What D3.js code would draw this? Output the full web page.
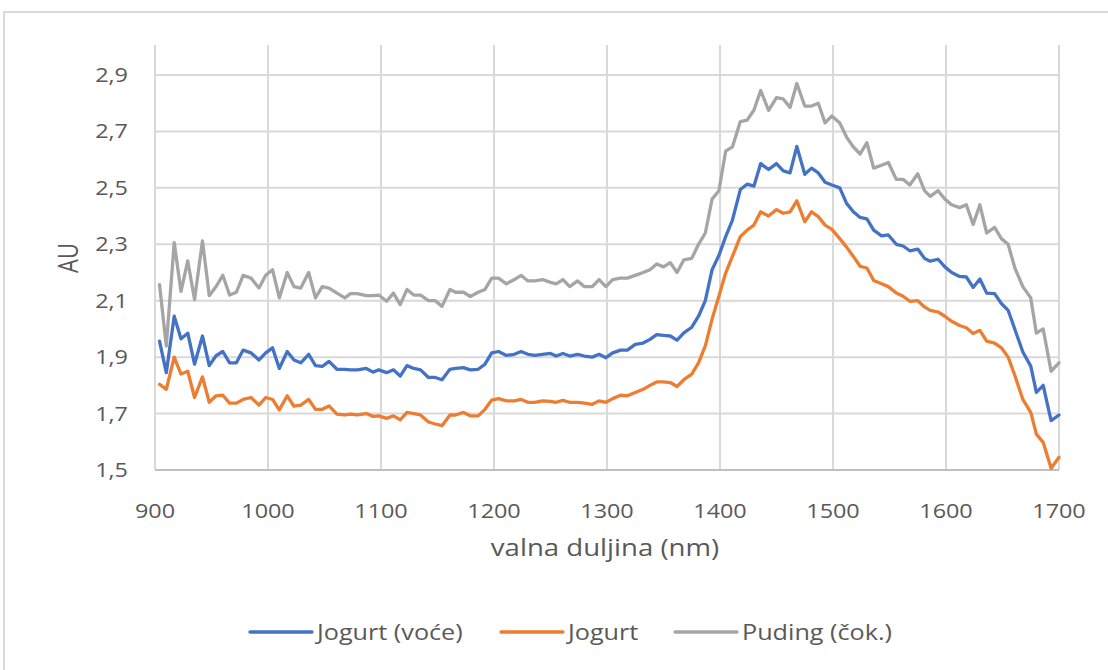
<!DOCTYPE html>
<html>
<head>
<meta charset="utf-8">
<script src="https://cdn.jsdelivr.net/npm/d3@7"></script>
<style>
  body { margin: 0; background: #fff; }
  text { font-family: "Open Sans", "Noto Sans", sans-serif; fill: #595959; }
</style>
</head>
<body>
<div id="chart"></div>
<script>
// wavelengths (nm)
const wavelengths = [
  904, 910, 917, 923, 929, 935, 942, 948, 954, 960, 966, 972, 978, 985, 992, 998, 1004, 1010, 1017, 1023,
  1029, 1036, 1042, 1048, 1054, 1061, 1068, 1073, 1079, 1087, 1093, 1098, 1105, 1111, 1117, 1123, 1129,
  1135, 1142, 1148, 1154, 1161, 1166, 1173, 1179, 1186, 1192, 1198, 1204, 1211, 1218, 1224, 1230, 1236,
  1243, 1250, 1255, 1261, 1267, 1274, 1280, 1287, 1293, 1299, 1305, 1312, 1318, 1325, 1332, 1338, 1344,
  1350, 1356, 1362, 1368, 1375, 1381, 1387, 1393, 1399,
  1405, 1411, 1418, 1424, 1430, 1436, 1443, 1450, 1456, 1462, 1468, 1475, 1481, 1487, 1493, 1499, 1506,
  1512, 1518, 1524, 1530, 1536, 1543, 1549, 1556, 1562, 1568, 1575, 1581, 1586, 1593, 1599, 1605, 1612,
  1618, 1624, 1630, 1636, 1643, 1649, 1655, 1661, 1668, 1675, 1680, 1686, 1693, 1700
];

const jogurtVoce = [
  1.957, 1.845, 2.045, 1.965, 1.985, 1.875, 1.975, 1.87, 1.905, 1.92, 1.88, 1.88, 1.925, 1.915, 1.89, 1.915, 1.933, 1.86, 1.92, 1.89,
  1.88, 1.91, 1.87, 1.867, 1.885, 1.857, 1.857, 1.855, 1.855, 1.86, 1.847, 1.855, 1.845, 1.855, 1.833, 1.87, 1.86,
  1.855, 1.828, 1.828, 1.82, 1.857, 1.86, 1.863, 1.855, 1.857, 1.875, 1.915, 1.92, 1.906, 1.91, 1.92, 1.91, 1.906,
  1.91, 1.913, 1.904, 1.913, 1.904, 1.91, 1.904, 1.90, 1.91, 1.898, 1.915, 1.925, 1.925, 1.945, 1.95, 1.963, 1.98,
  1.977, 1.975, 1.96, 1.986, 2.006, 2.045, 2.10, 2.21, 2.26,
  2.327, 2.386, 2.494, 2.513, 2.506, 2.586, 2.565, 2.586, 2.56, 2.553, 2.647, 2.548, 2.57, 2.553, 2.52, 2.51, 2.50,
  2.445, 2.415, 2.395, 2.39, 2.35, 2.33, 2.333, 2.30, 2.294, 2.277, 2.283, 2.25, 2.24, 2.247, 2.22, 2.20, 2.186,
  2.184, 2.147, 2.177, 2.127, 2.125, 2.09, 2.066, 1.998, 1.918, 1.868, 1.775, 1.80, 1.675, 1.695
];

const jogurt = [
  1.804, 1.786, 1.90, 1.84, 1.85, 1.757, 1.83, 1.74, 1.763, 1.765, 1.737, 1.737, 1.75, 1.757, 1.73, 1.757, 1.75, 1.713, 1.763, 1.726,
  1.73, 1.75, 1.715, 1.715, 1.727, 1.698, 1.695, 1.698, 1.695, 1.70, 1.69, 1.692, 1.683, 1.692, 1.678, 1.704, 1.70,
  1.695, 1.67, 1.663, 1.657, 1.695, 1.695, 1.704, 1.692, 1.692, 1.715, 1.748, 1.753, 1.745, 1.745, 1.75, 1.74, 1.74,
  1.745, 1.743, 1.74, 1.747, 1.74, 1.74, 1.737, 1.733, 1.745, 1.74, 1.753, 1.765, 1.763, 1.775, 1.786, 1.80, 1.812,
  1.812, 1.81, 1.796, 1.82, 1.84, 1.88, 1.94, 2.035, 2.116,
  2.198, 2.257, 2.327, 2.35, 2.368, 2.415, 2.40, 2.423, 2.41, 2.415, 2.454, 2.38, 2.415, 2.398, 2.368, 2.353, 2.32,
  2.29, 2.257, 2.222, 2.216, 2.172, 2.16, 2.15, 2.127, 2.116, 2.098, 2.10, 2.078, 2.066, 2.06, 2.045, 2.027, 2.012,
  2.004, 1.984, 1.995, 1.957, 1.95, 1.933, 1.90, 1.834, 1.75, 1.704, 1.627, 1.598, 1.506, 1.545
];

const pudingCok = [
  2.157, 1.939, 2.306, 2.133, 2.241, 2.104, 2.312, 2.118, 2.15, 2.19, 2.12, 2.13, 2.19, 2.18, 2.145, 2.19, 2.21, 2.11, 2.20, 2.15,
  2.145, 2.20, 2.11, 2.15, 2.145, 2.127, 2.11, 2.125, 2.125, 2.118, 2.118, 2.12, 2.098, 2.127, 2.086, 2.14, 2.12,
  2.12, 2.10, 2.10, 2.08, 2.14, 2.13, 2.13, 2.115, 2.13, 2.14, 2.18, 2.18, 2.16, 2.175, 2.19, 2.17, 2.17,
  2.175, 2.165, 2.16, 2.175, 2.15, 2.17, 2.15, 2.15, 2.175, 2.15, 2.175, 2.18, 2.18, 2.19, 2.20, 2.21, 2.23,
  2.22, 2.235, 2.20, 2.245, 2.25, 2.30, 2.34, 2.46, 2.49,
  2.63, 2.645, 2.735, 2.74, 2.775, 2.845, 2.775, 2.82, 2.815, 2.785, 2.87, 2.79, 2.79, 2.80, 2.73, 2.755, 2.73,
  2.68, 2.645, 2.62, 2.66, 2.57, 2.58, 2.59, 2.53, 2.53, 2.51, 2.55, 2.49, 2.47, 2.49, 2.46, 2.44, 2.43,
  2.44, 2.37, 2.44, 2.34, 2.36, 2.32, 2.30, 2.215, 2.15, 2.11, 1.985, 2.00, 1.85, 1.88
];

const seriesNames = ["Jogurt (voće)", "Jogurt", "Puding (čok.)"];
const seriesColors = ["#4472C4", "#ED7D31", "#A5A5A5"];
const xTicks = [900, 1000, 1100, 1200, 1300, 1400, 1500, 1600, 1700];
const yTicks = [1.5, 1.7, 1.9, 2.1, 2.3, 2.5, 2.7, 2.9];

const W = 1108, H = 670;
const plotLeft = 155, plotRight = 1059, plotTop = 45, plotBottom = 470;
const sx = 1.2; // text in the picture is stretched horizontally

const svg = d3.select("#chart").append("svg")
  .attr("width", W)
  .attr("height", H);

// chart frame
svg.append("rect")
  .attr("x", 4).attr("y", 12)
  .attr("width", W + 10).attr("height", H + 10)
  .attr("fill", "#fff")
  .attr("stroke", "#d9d9d9")
  .attr("stroke-width", 2);

const x = d3.scaleLinear().domain([900, 1700]).range([plotLeft, plotRight]);
const y = d3.scaleLinear().domain([1.5, 2.9]).range([plotBottom, 75]);

function label(g, tx, ty, str, size, anchor, rot) {
  return g.append("text")
    .attr("transform", `translate(${tx},${ty}) scale(${sx},1)` + (rot ? ` rotate(${rot})` : ""))
    .attr("text-anchor", anchor)
    .style("font-size", size + "px")
    .text(str);
}

// gridlines
svg.append("g").selectAll("line")
  .data(xTicks)
  .enter()
  .append("line")
  .attr("x1", (d) => x(d)).attr("x2", (d) => x(d))
  .attr("y1", plotTop).attr("y2", plotBottom)
  .attr("stroke", "#d9d9d9")
  .attr("stroke-width", 2);

svg.append("g").selectAll("line")
  .data(yTicks)
  .enter()
  .append("line")
  .attr("x1", plotLeft).attr("x2", plotRight)
  .attr("y1", (d) => y(d)).attr("y2", (d) => y(d))
  .attr("stroke", (d) => d == 1.5 ? "#bfbfbf" : "#d9d9d9")
  .attr("stroke-width", 2);

// tick labels
const fmt = (d) => d3.format(".1f")(d).replace(".", ",");
const labels = svg.append("g");
yTicks.forEach((d) => label(labels, 128, y(d) + 7, fmt(d), 19.5, "end"));
xTicks.forEach((d) => label(labels, x(d), 518, d, 19.5, "middle"));

// axis titles
label(svg, 605, 556, "valna duljina (nm)", 23, "middle");
label(svg, 78, 258, "AU", 22, "middle", -90);

// lines
const allSeries = [jogurtVoce, jogurt, pudingCok];
const line = d3.line()
  .x((d, i) => x(wavelengths[i]))
  .y((d) => y(d));

svg.append("g")
  .selectAll("path")
  .data(allSeries.slice().reverse())
  .enter()
  .append("path")
  .attr("d", line)
  .attr("fill", "none")
  .attr("stroke", (d, i) => seriesColors[2 - i])
  .attr("stroke-width", 3.3)
  .attr("stroke-linejoin", "round")
  .attr("stroke-linecap", "round");

// legend
const legendX = [250, 501, 675];
const legend = svg.append("g");
seriesNames.forEach((name, i) => {
  legend.append("line")
    .attr("x1", legendX[i]).attr("x2", legendX[i] + 62)
    .attr("y1", 632).attr("y2", 632)
    .attr("stroke", seriesColors[i])
    .attr("stroke-width", 3.3)
    .attr("stroke-linecap", "round");
  label(legend, legendX[i] + 67, 640, name, 21, "start");
});
</script>
</body>
</html>
